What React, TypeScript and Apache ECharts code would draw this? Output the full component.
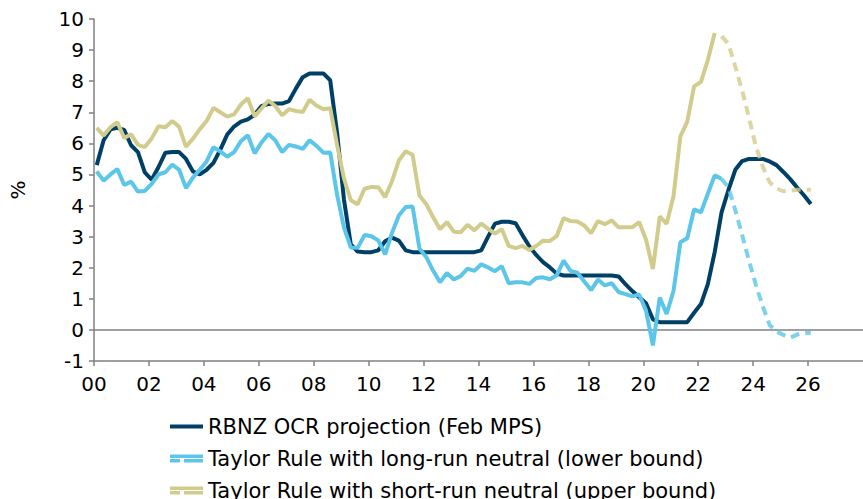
import React, { useEffect, useRef } from "react";
import * as echarts from "echarts";

// Quarterly observations, x measured in years after 2000
const START = 0.1;
const STEP = 0.25;

const xTickLabels = ["00", "02", "04", "06", "08", "10", "12", "14", "16", "18", "20", "22", "24", "26"];

const ocr = [
  5.3, 6.1, 6.45, 6.5,
  6.43, 5.94, 5.72, 5.07,
  4.83, 5.24, 5.7, 5.72,
  5.72, 5.5, 5.1, 5.0,
  5.15, 5.37, 5.8, 6.28,
  6.54, 6.7, 6.77, 6.92,
  7.2, 7.27, 7.28, 7.28,
  7.36, 7.76, 8.13, 8.25,
  8.25, 8.25, 8.03, 6.35,
  4.2, 2.75, 2.52, 2.5,
  2.5, 2.56, 2.85, 2.97,
  2.87, 2.56, 2.5, 2.5,
  2.5, 2.5, 2.5, 2.5,
  2.5, 2.5, 2.5, 2.5,
  2.56, 3.0, 3.42, 3.48,
  3.48, 3.43, 3.05, 2.69,
  2.41, 2.18, 2.01, 1.81,
  1.75, 1.75, 1.75, 1.75,
  1.75, 1.75, 1.75, 1.75,
  1.72, 1.47, 1.25, 1.05,
  0.86, 0.34, 0.25, 0.25,
  0.25, 0.25, 0.25, 0.55,
  0.83, 1.47, 2.5, 3.78,
  4.5, 5.15, 5.43, 5.5,
  5.5, 5.5, 5.42, 5.3,
  5.08, 4.85, 4.58, 4.33,
  4.05,
];

const taylorLong = [
  5.1, 4.8, 5.0, 5.17,
  4.66, 4.77, 4.45, 4.47,
  4.7, 5.0, 5.07, 5.32,
  5.15, 4.56, 4.9, 5.15,
  5.42, 5.88, 5.74, 5.57,
  5.72, 6.07, 6.26, 5.68,
  6.03, 6.3, 6.1, 5.72,
  5.95, 5.9, 5.82, 6.1,
  5.92, 5.7, 5.71, 4.35,
  3.3, 2.65, 2.64, 3.05,
  3.01, 2.88, 2.43, 3.12,
  3.68, 3.95, 3.97, 2.62,
  2.34, 1.9, 1.53, 1.83,
  1.62, 1.73, 1.97, 1.9,
  2.11, 2.01, 1.89, 2.05,
  1.5, 1.53, 1.53, 1.48,
  1.67, 1.69, 1.63, 1.76,
  2.23, 1.9, 1.84, 1.56,
  1.28, 1.62, 1.43, 1.5,
  1.22, 1.15, 1.08, 1.14,
  0.62, -0.5, 1.04, 0.51,
  1.25, 2.82, 2.95, 3.88,
  3.78, 4.38, 4.97, 4.86,
];
const LONG_PROJ_START = 91;
const taylorLongProj = [4.86, 4.58, 3.85, 3.05, 2.22, 1.45, 0.76, 0.16, -0.05, -0.16, -0.25, -0.15, -0.1, -0.09];

const taylorShort = [
  6.5, 6.25, 6.52, 6.68,
  6.17, 6.29, 5.95, 5.88,
  6.16, 6.55, 6.52, 6.72,
  6.53, 5.89, 6.15, 6.45,
  6.72, 7.14, 7.0, 6.86,
  6.93, 7.25, 7.45, 6.87,
  7.12, 7.38, 7.2, 6.9,
  7.1, 7.04, 7.01, 7.4,
  7.22, 7.1, 7.13, 5.95,
  4.88, 4.17, 4.04, 4.54,
  4.6, 4.59, 4.27, 4.78,
  5.45, 5.75, 5.63, 4.32,
  4.04, 3.62, 3.24, 3.47,
  3.16, 3.14, 3.38, 3.2,
  3.42, 3.25, 3.1, 3.24,
  2.7, 2.63, 2.7, 2.57,
  2.7, 2.87, 2.86, 3.02,
  3.6, 3.5, 3.49, 3.36,
  3.11, 3.5, 3.4, 3.52,
  3.3, 3.3, 3.3, 3.47,
  2.9, 1.96, 3.65, 3.41,
  4.3, 6.22, 6.7, 7.83,
  7.98, 8.68, 9.55,
];
const SHORT_PROJ_START = 91;
const taylorShortProj = [9.45, 9.2, 8.47, 7.7, 6.82, 5.9, 5.25, 4.75, 4.55, 4.46, 4.48, 4.51, 4.51, 4.51];

const NAME_OCR = "RBNZ OCR projection (Feb MPS)";
const NAME_LONG = "Taylor Rule with long-run neutral (lower bound)";
const NAME_SHORT = "Taylor Rule with short-run neutral (upper bound)";

const C_OCR = "#003f66";
const C_LONG = "#5bc5ea";
const C_SHORT = "#d2cc8c";

const FONT = "DejaVu Sans, Verdana, sans-serif";

const toPairs = (vals: number[], offset: number) =>
  vals.map((v, i) => [START + (offset + i) * STEP, v]);

const corner = "M0,0h0.01v0.01h-0.01z M32.99,8.99h0.01v0.01h-0.01z ";
const iconSolid = "path://" + corner + "M0,2.5h33v4h-33z";
const iconDouble = "path://" + corner + "M0,0.5h33v3.5h-33z M0,5h10v3.5h-10z M14,5h19v3.5h-19z";

const legendRow = (name: string, icon: string, color: string, top: number) => ({
  orient: "horizontal",
  left: 170,
  top,
  padding: 0,
  itemWidth: 33,
  itemHeight: 9,
  selectedMode: false,
  textStyle: { fontFamily: FONT, fontSize: 21, lineHeight: 20, color: "#000" },
  data: [{ name, icon, itemStyle: { color } }],
});

export default function App() {
  const ref = useRef<HTMLDivElement>(null);
  useEffect(() => {
    document.body.style.margin = "0";
    if (!ref.current) return;
    const chart = echarts.init(ref.current, undefined, { renderer: "svg" });
    const splitColors = ["rgba(0,0,0,0)", "#808080"];
    for (let i = 0; i < 10; i++) splitColors.push("rgba(0,0,0,0)");
    const lineBase = { type: "line", showSymbol: false, symbol: "none", smooth: false };
    chart.setOption({
      animation: false,
      textStyle: { fontFamily: FONT },
      grid: { left: 91, top: 19, width: 780, height: 342, containLabel: false },
      legend: [
        legendRow(NAME_OCR, iconSolid, C_OCR, 416),
        legendRow(NAME_LONG, iconDouble, C_LONG, 448),
        legendRow(NAME_SHORT, iconDouble, C_SHORT, 480),
      ],
      xAxis: {
        type: "value",
        min: 0,
        max: 28,
        interval: 2,
        axisLine: { show: true, onZero: false, lineStyle: { color: "#808080", width: 1.5 } },
        axisTick: { show: true, length: 5, lineStyle: { color: "#808080", width: 1.5 } },
        axisLabel: {
          margin: 13,
          fontSize: 20,
          fontFamily: FONT,
          color: "#000",
          showMaxLabel: false,
          formatter: (v: number) => xTickLabels[Math.round(v / 2)] ?? "",
        },
        splitLine: { show: false },
      },
      yAxis: {
        type: "value",
        min: -1,
        max: 10,
        interval: 1,
        name: "%",
        nameLocation: "middle",
        nameRotate: 90,
        nameGap: 66,
        nameTextStyle: { fontFamily: FONT, fontSize: 20, color: "#000" },
        axisLine: { show: true, onZero: false, lineStyle: { color: "#808080", width: 1.5 } },
        axisTick: { show: true, length: 5, lineStyle: { color: "#808080", width: 1.5 } },
        axisLabel: { margin: 10, fontSize: 20, fontFamily: FONT, color: "#000" },
        splitLine: {
          show: true,
          showMinLine: true,
          showMaxLine: false,
          lineStyle: { color: splitColors, width: 1.5 },
        },
      },
      series: [
        {
          ...lineBase,
          name: NAME_OCR,
          data: toPairs(ocr, 0),
          itemStyle: { color: C_OCR },
          lineStyle: { color: C_OCR, width: 4 },
          z: 2,
        },
        {
          ...lineBase,
          name: NAME_LONG,
          data: toPairs(taylorLong, 0),
          itemStyle: { color: C_LONG },
          lineStyle: { color: C_LONG, width: 4 },
          z: 3,
        },
        {
          ...lineBase,
          name: NAME_SHORT,
          data: toPairs(taylorShort, 0),
          itemStyle: { color: C_SHORT },
          lineStyle: { color: C_SHORT, width: 4 },
          z: 4,
        },
        {
          ...lineBase,
          name: NAME_LONG,
          data: toPairs(taylorLongProj, LONG_PROJ_START),
          itemStyle: { color: C_LONG },
          lineStyle: { color: C_LONG, width: 4, type: [9, 6], opacity: 0.8 },
          z: 3,
        },
        {
          ...lineBase,
          name: NAME_SHORT,
          data: toPairs(taylorShortProj, SHORT_PROJ_START),
          itemStyle: { color: C_SHORT },
          lineStyle: { color: C_SHORT, width: 4, type: [9, 6], opacity: 0.8 },
          z: 4,
        },
      ],
    });
    return () => chart.dispose();
  }, []);
  return <div ref={ref} style={{ width: 863, height: 499 }} />;
}
